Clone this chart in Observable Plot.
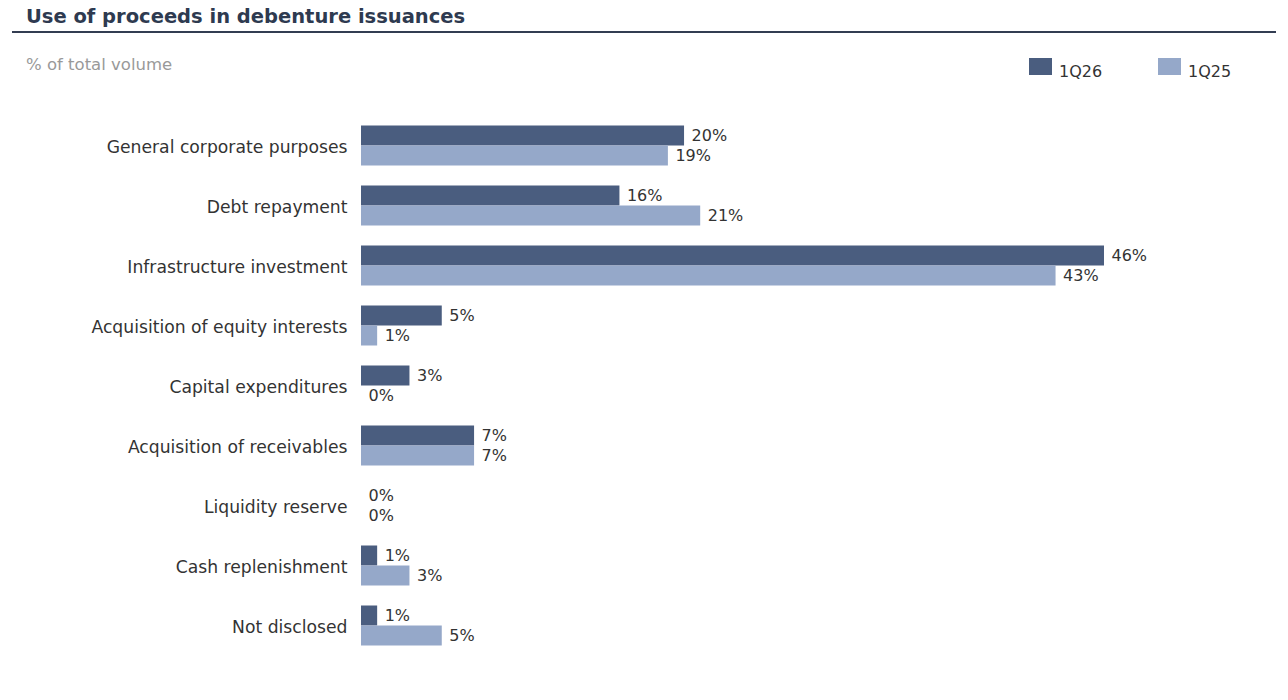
<!DOCTYPE html>
<html>
<head>
<meta charset="utf-8">
<script src="https://cdn.jsdelivr.net/npm/d3@7"></script>
<script src="https://cdn.jsdelivr.net/npm/@observablehq/plot@0.6"></script>
<style>
  html, body { margin: 0; padding: 0; background: #fff; }
  body { font-family: "DejaVu Sans", sans-serif; }
  #page { position: relative; width: 1288px; height: 700px; overflow: hidden; }
  #title { position: absolute; left: 26px; top: 5px; font-size: 19.5px; font-weight: bold; color: #2e3a50; white-space: nowrap; }
  #rule { position: absolute; left: 12px; top: 31px; width: 1264px; height: 2px; background: #333d52; }
  #subtitle { position: absolute; left: 26px; top: 55px; font-size: 16.5px; color: #999; white-space: nowrap; }
  .sw { position: absolute; top: 58px; width: 23px; height: 17px; }
  .lt { position: absolute; top: 62px; font-size: 16px; color: #333; white-space: nowrap; }
  #chart { position: absolute; left: 0; top: 94px; }
</style>
</head>
<body>
<div id="page">
  <div id="title">Use of proceeds in debenture issuances</div>
  <div id="rule"></div>
  <div id="subtitle">% of total volume</div>
  <div id="legend"></div>
  <div id="chart"></div>
</div>
<script>
const categories = [
  "General corporate purposes",
  "Debt repayment",
  "Infrastructure investment",
  "Acquisition of equity interests",
  "Capital expenditures",
  "Acquisition of receivables",
  "Liquidity reserve",
  "Cash replenishment",
  "Not disclosed"
];
const seriesNames = ["1Q26", "1Q25"];
const values1Q26 = [20, 16, 46, 5, 3, 7, 0, 1, 1];
const values1Q25 = [19, 21, 43, 1, 0, 7, 0, 3, 5];
const seriesColors = ["#4a5d7f", "#95a8c9"];

const table = [];
categories.forEach((c, i) => {
  table.push({category: c, series: seriesNames[0], value: values1Q26[i]});
  table.push({category: c, series: seriesNames[1], value: values1Q25[i]});
});

// legend
const legend = document.getElementById("legend");
const legendX = [1029, 1158];
seriesNames.forEach((s, i) => {
  const sw = document.createElement("div");
  sw.className = "sw";
  sw.style.left = legendX[i] + "px";
  sw.style.background = seriesColors[i];
  legend.appendChild(sw);
  const t = document.createElement("div");
  t.className = "lt";
  t.style.left = (legendX[i] + 30) + "px";
  t.textContent = s;
  legend.appendChild(t);
});

const chart = Plot.plot({
  width: 1288,
  height: 590,
  marginLeft: 361,
  marginRight: 184,
  marginTop: 20.5,
  marginBottom: 29.5,
  style: {fontFamily: "DejaVu Sans, sans-serif", background: "white", color: "#333"},
  x: {domain: [0, 46], axis: null},
  y: {domain: seriesNames, paddingInner: 0, paddingOuter: 0.463, axis: null},
  fy: {domain: categories, padding: 0, label: null, axis: null},
  color: {domain: seriesNames, range: seriesColors},
  marks: [
    Plot.barX(table, {x: "value", y: "series", fy: "category", fill: "series"}),
    Plot.text(table, {x: "value", y: "series", fy: "category", text: d => d.value + "%",
      dx: 7, dy: -0.5, textAnchor: "start", fontSize: 16, fill: "#333"}),
    Plot.axisFy({anchor: "left", tickSize: 0, tickPadding: 14, fontSize: 17.2, dy: 1.5, label: null, color: "#333"})
  ]
});
document.getElementById("chart").appendChild(chart);
</script>
</body>
</html>
